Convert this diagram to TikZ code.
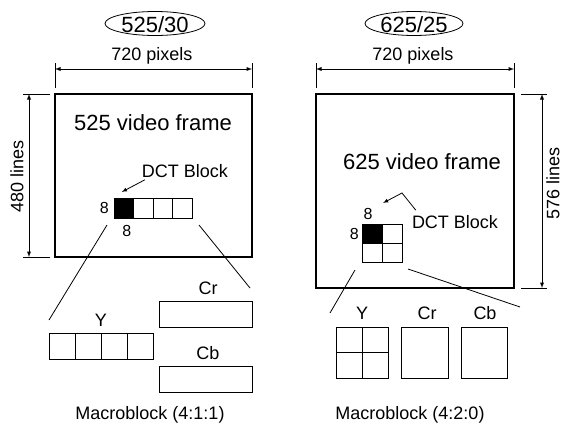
\documentclass[tikz,border=0pt]{standalone}
\usepackage{fontspec}
\setmainfont{Liberation Sans}
\usetikzlibrary{shapes,arrows,positioning,calc}

\begin{document}
\begin{tikzpicture}[x=1pt,y=-1pt,
  lbl/.style={font=\fontsize{18}{20}\selectfont, inner sep=1pt},
  big/.style={font=\fontsize{22}{24}\selectfont, inner sep=1pt},
  small/.style={font=\fontsize{16}{18}\selectfont, inner sep=1pt},
  std/.style={font=\fontsize{22}{24}\selectfont, inner sep=0pt, anchor=base},
  oval/.style={line width=0.8pt},
  frame/.style={draw, line width=2.8pt, inner sep=0pt, outer sep=0pt},
  cell/.style={draw, line width=1pt, inner sep=0pt, outer sep=0pt},
  dim/.style={latex-latex, line width=0.9pt},
  ext/.style={line width=0.6pt},
  lead/.style={line width=0.8pt}]
\useasboundingbox[fill=white] (0,0) rectangle (562,426);
\begin{scope}
\node[std] (stdA) at (155,32) {525/30};
\draw[oval] ($(stdA.base)+(0,-8.5)$) ellipse [x radius=50, y radius=12];
\node[lbl] (widthA) at (152,56) {720 pixels};
\node[frame, minimum width=197pt, minimum height=163pt] (frameA) at (153.5,175.5) {};
\coordinate (dimAl) at ($(frameA.north west)+(0,-25)$);
\coordinate (dimAr) at ($(frameA.north east)+(0,-25)$);
\draw[ext] ($(frameA.north west)+(0,-6)$) -- ++(0,-25);
\draw[ext] ($(frameA.north east)+(0,-6)$) -- ++(0,-25);
\draw[dim] (dimAl) -- (dimAr);
\coordinate (dimAt) at ($(frameA.north west)+(-26,0)$);
\coordinate (dimAb) at ($(frameA.south west)+(-26,0)$);
\draw[ext] ($(frameA.north west)+(-5,0)$) -- ++(-27,0);
\draw[ext] ($(frameA.south west)+(-5,0)$) -- ++(-27,0);
\draw[dim] (dimAt) -- (dimAb);
\node[lbl, rotate=90] (heightA) at (17,176) {480 lines};
\node[big] (titleA) at (153,123) {525 video frame};
\node[lbl] (dctA) at (185,171) {DCT Block};
\foreach \i/\f in {0/black,1/white,2/white,3/white}
  \node[cell, fill=\f, minimum width=19.5pt, minimum height=20pt] (dA\i) at (123.75+19.5*\i,208) {};
\node[small, left=4pt of dA0] (eightAl) {8};
\node[small, below=6pt of dA0, xshift=3pt] (eightAb) {8};
\draw[lead, -latex] ($(dctA.south west)+(4,1)$) -- ($(dA0.north)+(-2,-6)$);
\foreach \i in {0,...,3}
  \node[cell, minimum width=26pt, minimum height=26pt] (yA\i) at (62+26*\i,346) {};
\node[cell, minimum width=93pt, minimum height=26pt] (crA) at (205.5,314) {};
\node[cell, minimum width=93pt, minimum height=26pt] (cbA) at (205.5,379) {};
\node[lbl] (yLblA) at (101,320) {Y};
\node[lbl] (crLblA) at (208,288) {Cr};
\node[lbl] (cbLblA) at (208,353) {Cb};
\draw[lead] ($(dA0.south west)+(-7,7)$) -- ($(yA0.north west)+(0,-13)$);
\draw[lead] ($(dA3.south east)+(7,7)$) -- ($(crA.north east)+(-2,-13)$);
\node[lbl] (mbA) at (150,415) {Macroblock (4:1:1)};
\end{scope}
\begin{scope}
\node[std] (stdB) at (414,32) {625/25};
\draw[oval] ($(stdB.base)+(0,-8.5)$) ellipse [x radius=49, y radius=12];
\node[lbl] (widthB) at (413,56) {720 pixels};
\node[frame, minimum width=198pt, minimum height=194pt] (frameB) at (415,191) {};
\coordinate (dimBl) at ($(frameB.north west)+(0,-25)$);
\coordinate (dimBr) at ($(frameB.north east)+(0,-25)$);
\draw[ext] ($(frameB.north west)+(0,-6)$) -- ++(0,-25);
\draw[ext] ($(frameB.north east)+(0,-6)$) -- ++(0,-25);
\draw[dim] (dimBl) -- (dimBr);
\coordinate (dimBt) at ($(frameB.north east)+(28,0)$);
\coordinate (dimBb) at ($(frameB.south east)+(28,0)$);
\draw[ext] ($(frameB.north east)+(7,0)$) -- ++(26,0);
\draw[ext] ($(frameB.south east)+(7,0)$) -- ++(26,0);
\draw[dim] (dimBt) -- (dimBb);
\node[lbl, rotate=90] (heightB) at (553,183) {576 lines};
\node[big] (titleB) at (422,162) {625 video frame};
\node[lbl] (dctB) at (455,222) {DCT Block};
\foreach \i/\j/\f in {0/0/black,1/0/white,0/1/white,1/1/white}
  \node[cell, fill=\f, minimum width=20pt, minimum height=19pt] (dB\i\j) at (372+20*\i,233.5+19*\j) {};
\node[small, above=3pt of dB00, xshift=-4pt] (eightBt) {8};
\node[small, left=2pt of dB00] (eightBl) {8};
\coordinate (bendB) at (402,193);
\draw[lead, -latex] ($(dctB.north west)+(5,-4)$) -- (bendB) -- ($(dB10.north east)+(-19,-21)$);
\foreach \i/\j in {0/0,1/0,0/1,1/1}
  \node[cell, minimum width=26pt, minimum height=25.5pt] (yB\i\j) at (349+26*\i,339.75+25.5*\j) {};
\node[cell, minimum width=47pt, minimum height=51pt] (crB) at (424.5,352.5) {};
\node[cell, minimum width=46pt, minimum height=51pt] (cbB) at (484,352.5) {};
\node[lbl] (yLblB) at (362,313) {Y};
\node[lbl] (crLblB) at (427,313) {Cr};
\node[lbl] (cbLblB) at (485,313) {Cb};
\draw[lead] ($(dB01.south west)+(-7,8)$) -- ($(yB00.north west)+(-6,-14)$);
\draw[lead] ($(dB11.south east)+(6,7)$) -- ($(cbB.north east)+(13,-20)$);
\node[lbl] (mbB) at (410,415) {Macroblock (4:2:0)};
\end{scope}
\end{tikzpicture}
\end{document}
